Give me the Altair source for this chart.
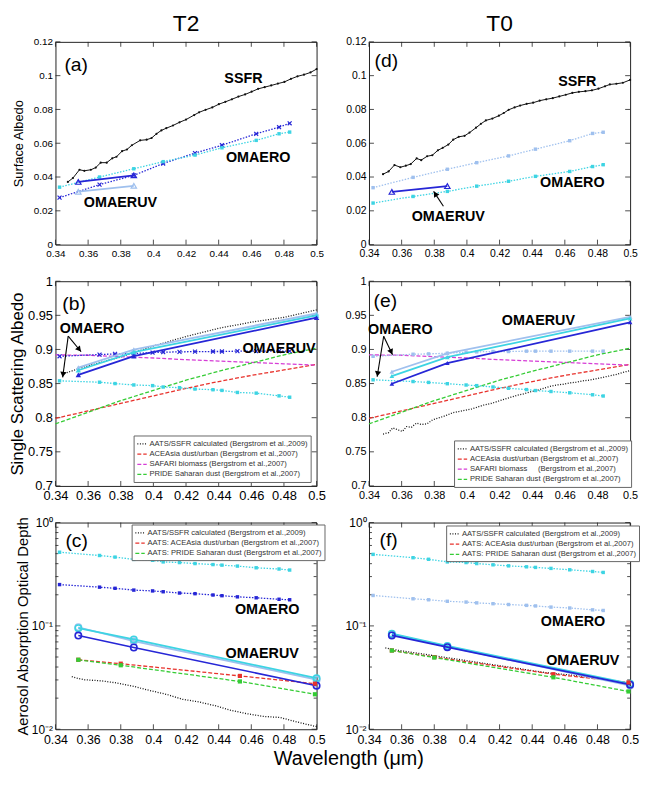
import math
import altair as alt
import pandas as pd

FONT = "Liberation Sans"
DARK = "#2626d6"
CYAN = "#3dd4e3"
LIGHT = "#9fc0ee"
BLACK = "#111111"
RED = "#e8322c"
MAGENTA = "#d63cd6"
GREEN = "#35cc35"
TICKC = "#222222"

W = 264
H_A, H_B, H_C = 205, 207, 209

PANEL_TITLES = ["T2", "T0"]
X_TITLE = "Wavelength (\u03bcm)"

# ---------------- axis ticks ----------------
X_TICKS = [0.34, 0.36, 0.38, 0.40, 0.42, 0.44, 0.46, 0.48, 0.50]
Y_TICKS_SA = [0, 0.02, 0.04, 0.06, 0.08, 0.10, 0.12]
Y_TICKS_SSA = [0.7, 0.75, 0.8, 0.85, 0.9, 0.95, 1.0]
Y_MAJOR_LOG = [0.01, 0.1, 1.0]
Y_MINOR_LOG = [0.02, 0.03, 0.04, 0.05, 0.06, 0.07, 0.08, 0.09,
               0.2, 0.3, 0.4, 0.5, 0.6, 0.7, 0.8, 0.9]

# ---------------- wavelengths ----------------
WL_OMAERO_SA = [0.3425, 0.367, 0.388, 0.406, 0.4255, 0.442, 0.463, 0.477, 0.4835]
WL_OMAERO = [0.3425, 0.367, 0.3765, 0.388, 0.3995, 0.406, 0.416, 0.4255,
             0.4365, 0.442, 0.4515, 0.463, 0.477, 0.4835]
WL_OMAERUV_SA = [0.354, 0.388]
WL_OMAERUV = [0.354, 0.388, 0.5]
WL_AATS = [0.354, 0.380, 0.453, 0.499]
WL_BERG = [0.34, 0.36, 0.38, 0.40, 0.42, 0.44, 0.46, 0.48, 0.50]

# ---------------- (a) T2 surface albedo ----------------
SSFR_A_X = [0.3476, 0.3507, 0.3547, 0.3577, 0.3617, 0.3647, 0.3677, 0.3714, 0.3748, 0.3774,
            0.3808, 0.3838, 0.3868, 0.3919, 0.3959, 0.3989, 0.4019, 0.4049, 0.4079, 0.4120,
            0.4160, 0.4200, 0.4250, 0.4280, 0.4320, 0.4361, 0.4401, 0.4441, 0.4481, 0.4521,
            0.4562, 0.4602, 0.4642, 0.4682, 0.4722, 0.4763, 0.4803, 0.4843, 0.4883, 0.4923,
            0.4963, 0.5000]
SSFR_A_Y = [0.0371, 0.0394, 0.0443, 0.0437, 0.0443, 0.0456, 0.0485, 0.0485, 0.0511, 0.0520,
            0.0553, 0.0563, 0.0588, 0.0617, 0.0621, 0.0631, 0.0656, 0.0676, 0.0689, 0.0705,
            0.0724, 0.0740, 0.0767, 0.0783, 0.0798, 0.0812, 0.0831, 0.0845, 0.0860, 0.0876,
            0.0889, 0.0905, 0.0922, 0.0932, 0.0942, 0.0953, 0.0963, 0.0981, 0.0996, 0.1006,
            0.1019, 0.1039]
OMAERO_A_DARK = [0.0278, 0.0355, 0.0410, 0.0480, 0.0542, 0.0588, 0.0656, 0.0695, 0.0718]
OMAERO_A_CYAN = [0.0340, 0.0400, 0.0449, 0.0491, 0.0530, 0.0573, 0.0617, 0.0656, 0.0666]
OMAERUV_A_DARK = [0.0371, 0.0410]
OMAERUV_A_LIGHT = [0.0313, 0.0348]

# ---------------- (d) T0 surface albedo ----------------
SSFR_D_X = [0.3486, 0.3520, 0.3556, 0.3592, 0.3626, 0.3656, 0.3692, 0.3720, 0.3756, 0.3788,
            0.3822, 0.3852, 0.3886, 0.3916, 0.3950, 0.3986, 0.4016, 0.4056, 0.4086, 0.4116,
            0.4156, 0.4196, 0.4226, 0.4256, 0.4292, 0.4326, 0.4366, 0.4406, 0.4446, 0.4486,
            0.4526, 0.4566, 0.4606, 0.4646, 0.4686, 0.4726, 0.4766, 0.4806, 0.4846, 0.4876,
            0.4916, 0.4956, 0.5000]
SSFR_D_Y = [0.0417, 0.0433, 0.0471, 0.0458, 0.0467, 0.0477, 0.0510, 0.0500, 0.0523, 0.0529,
            0.0558, 0.0573, 0.0592, 0.0621, 0.0638, 0.0644, 0.0663, 0.0692, 0.0715, 0.0735,
            0.0746, 0.0763, 0.0779, 0.0798, 0.0812, 0.0823, 0.0833, 0.0840, 0.0852, 0.0860,
            0.0867, 0.0877, 0.0887, 0.0898, 0.0904, 0.0908, 0.0913, 0.0923, 0.0937, 0.0948,
            0.0952, 0.0958, 0.0975]
OMAERO_D_LIGHT = [0.0337, 0.0398, 0.0446, 0.0485, 0.0525, 0.0565, 0.0615, 0.0658, 0.0665]
OMAERO_D_CYAN = [0.0246, 0.0285, 0.0315, 0.0346, 0.0375, 0.0404, 0.0433, 0.0462, 0.0473]
OMAERUV_D_DARK = [0.0312, 0.0346]

# ---------------- (b) T2 single scattering albedo ----------------
AATS_B_X = [0.3454, 0.36, 0.38, 0.40, 0.42, 0.44, 0.46, 0.48, 0.50]
AATS_B_Y = [0.865, 0.876, 0.889, 0.905, 0.919, 0.931, 0.940, 0.947, 0.958]
OMAERO_B_DARK = [0.890, 0.8925, 0.8935, 0.894, 0.8955, 0.896, 0.8965, 0.8968, 0.897,
                 0.897, 0.8975, 0.8975, 0.8975, 0.8975]
OMAERO_B_CYAN = [0.854, 0.852, 0.850, 0.848, 0.847, 0.845, 0.844, 0.842, 0.841,
                 0.840, 0.837, 0.836, 0.832, 0.830]
OMAERUV_B_DARK = [0.8627, 0.8902, 0.9465]
OMAERUV_B_CYAN = [0.8695, 0.8960, 0.9500]
OMAERUV_B_LIGHT = [0.8733, 0.8998, 0.9528]
SAFARI = [0.892, 0.8915, 0.8895, 0.8875, 0.885, 0.883, 0.881, 0.879, 0.877]
ACEASIA = [0.799, 0.810, 0.821, 0.832, 0.843, 0.853, 0.862, 0.870, 0.878]
PRIDE = [0.791, 0.808, 0.825, 0.840, 0.855, 0.868, 0.880, 0.892, 0.902]

# ---------------- (e) T0 single scattering albedo ----------------
AATS_E_X = [0.3486, 0.352, 0.3545, 0.358, 0.3605, 0.363, 0.366, 0.369, 0.372, 0.3755,
            0.379, 0.383, 0.387, 0.391, 0.395, 0.399, 0.403, 0.407, 0.411, 0.415,
            0.419, 0.423, 0.427, 0.431, 0.435, 0.439, 0.443, 0.447, 0.451, 0.455,
            0.459, 0.463, 0.467, 0.471, 0.475, 0.479, 0.483, 0.487, 0.491, 0.495, 0.500]
AATS_E_Y = [0.776, 0.778, 0.785, 0.782, 0.780, 0.787, 0.786, 0.792, 0.790, 0.791,
            0.797, 0.800, 0.803, 0.807, 0.809, 0.811, 0.813, 0.816, 0.819, 0.821,
            0.824, 0.827, 0.830, 0.833, 0.835, 0.838, 0.840, 0.843, 0.846, 0.848,
            0.849, 0.851, 0.852, 0.854, 0.855, 0.857, 0.859, 0.861, 0.863, 0.866, 0.869]
OMAERO_E_LIGHT = [0.890, 0.893, 0.8935, 0.8945, 0.896, 0.8965, 0.897, 0.897, 0.8975,
                  0.8975, 0.8975, 0.8975, 0.8975, 0.8975]
OMAERO_E_CYAN = [0.8555, 0.853, 0.8517, 0.8498, 0.8479, 0.847, 0.845, 0.8431, 0.8412,
                 0.8398, 0.8384, 0.8365, 0.8336, 0.8318]
OMAERUV_E_DARK = [0.8498, 0.8800, 0.9398]
OMAERUV_E_CYAN = [0.8610, 0.8886, 0.9455]
OMAERUV_E_LIGHT = [0.8673, 0.8943, 0.9479]

# ---------------- (c) T2 absorption optical depth ----------------
AATS_C_X = [0.35, 0.354, 0.358, 0.368, 0.3779, 0.3879, 0.3979, 0.4078, 0.4178, 0.4278,
            0.4378, 0.4477, 0.4577, 0.4677, 0.4777, 0.4816, 0.4876, 0.4956, 0.5]
AATS_C_Y = [0.0323, 0.0310, 0.0301, 0.0294, 0.0280, 0.0260, 0.0237, 0.0218, 0.0195, 0.0184,
            0.0169, 0.0152, 0.0141, 0.0133, 0.0130, 0.0125, 0.0118, 0.0110, 0.0106]
OMAERO_C_CYAN = [0.516, 0.480, 0.463, 0.440, 0.431, 0.416, 0.410, 0.401, 0.392, 0.387,
                 0.379, 0.365, 0.355, 0.347]
OMAERO_C_DARK = [0.251, 0.237, 0.231, 0.222, 0.218, 0.214, 0.208, 0.205, 0.199, 0.196,
                 0.191, 0.187, 0.181, 0.179]
OMAERUV_C_DARK = [0.0806, 0.0618, 0.0264]
OMAERUV_C_CYAN = [0.0951, 0.0739, 0.0312]
OMAERUV_C_LIGHT = [0.0970, 0.0712, 0.0302]
ACE_C = [0.0470, 0.0431, 0.0328, 0.0276]
PRIDE_C = [0.0470, 0.0416, 0.0290, 0.0218]

# ---------------- (f) T0 absorption optical depth ----------------
AATS_F_X = [0.35, 0.358, 0.368, 0.378, 0.388, 0.398, 0.408, 0.418, 0.428, 0.438,
            0.448, 0.458, 0.468, 0.478, 0.488, 0.5]
AATS_F_Y = [0.0612, 0.0580, 0.0550, 0.0520, 0.0492, 0.0466, 0.0440, 0.0417, 0.0395, 0.0373,
            0.0354, 0.0341, 0.0329, 0.0312, 0.0295, 0.0274]
OMAERO_F_CYAN = [0.492, 0.457, 0.441, 0.416, 0.410, 0.401, 0.390, 0.381, 0.373, 0.368,
                 0.360, 0.349, 0.336, 0.329]
OMAERO_F_LIGHT = [0.197, 0.183, 0.179, 0.173, 0.170, 0.167, 0.164, 0.161, 0.158, 0.156,
                  0.152, 0.149, 0.143, 0.141]
OMAERUV_F_DARK = [0.0809, 0.0622, 0.0270]
OMAERUV_F_CYAN = [0.0840, 0.0640, 0.0275]
OMAERUV_F_LIGHT = [0.0830, 0.0630, 0.0265]
ACE_F = [0.0578, 0.0499, 0.0341, 0.0284]
PRIDE_F = [0.0578, 0.0494, 0.0318, 0.0232]

# ---------------- legend texts ----------------
LEG_SSA = ["AATS/SSFR calculated (Bergstrom et al.,2009)",
           "ACEAsia dust/urban (Bergstrom et al.,2007)",
           "SAFARI biomass (Bergstrom et al.,2007)",
           "PRIDE Saharan dust (Bergstrom et al.,2007)"]
LEG_SSA_E = ["AATS/SSFR calculated (Bergstrom et al.,2009)",
             "ACEAsia dust/urban (Bergstrom et al.,2007)",
             "SAFARI biomass\u00a0\u00a0\u00a0\u00a0\u00a0(Bergstrom et al.,2007)",
             "PRIDE Saharan dust (Bergstrom et al.,2007)"]
LEG_AAOD = ["AATS/SSFR calculated (Bergstrom et al.,2009)",
            "AATS: ACEAsia dust/urban (Bergstrom et al.,2007)",
            "AATS: PRIDE Saharan dust (Bergstrom et al.,2007)"]

XPATH = "M -1 -1 L 1 1 M -1 1 L 1 -1"
DOT = [1.5, 1.5]
BDOT = [1, 1.6]
DASH = [4, 2]


def S(x, y, color, dash=None, sw=1.3, shape=None, filled=True, size=14, msw=1.2):
    return dict(x=x, y=y, color=color, dash=dash, sw=sw, shape=shape,
                filled=filled, size=size, msw=msw)


def build(cfg):
    H = cfg["h"]
    lo, hi = cfg["ydom"]
    log = cfg["log"]
    xscale = alt.Scale(domain=[0.34, 0.5], nice=False, zero=False)
    if log:
        yscale = alt.Scale(type="log", domain=[lo, hi], nice=False)
        ylab = ("datum.value >= 0.99 ? '10\u2070' : datum.value >= 0.099 ? "
                "'10\u207b\u00b9' : '10\u207b\u00b2'")
        yvals = Y_MAJOR_LOG
    else:
        yscale = alt.Scale(domain=[lo, hi], nice=False, zero=False)
        ylab = "format(datum.value, '.2~f')"
        yvals = cfg["yticks"]
    xaxis = alt.Axis(values=X_TICKS, labelExpr="format(datum.value, '.2~f')",
                     ticks=False, domain=False, grid=False, title=None,
                     labelFontSize=cfg["lfs"], labelPadding=4,
                     labelOverlap=False, labelFlush=False)
    yargs = dict(values=yvals, labelExpr=ylab, ticks=False, domain=False, grid=False,
                 labelFontSize=cfg["lfs_y"], labelPadding=3, labelOverlap=False,
                 labelFlush=False)
    if cfg.get("ytitle"):
        yargs.update(title=cfg["ytitle"], titleFontSize=cfg["tfs"],
                     titlePadding=cfg["tpad"], titleFontWeight="normal")
    else:
        yargs.update(title=None)
    yaxis = alt.Axis(**yargs)
    X = alt.X("x:Q", scale=xscale, axis=xaxis)
    Y = alt.Y("y:Q", scale=yscale, axis=yaxis)

    layers = []
    # inward tick marks on all four sides
    xt = pd.DataFrame({"x": X_TICKS})
    layers.append(alt.Chart(xt).mark_rule(color=TICKC, strokeWidth=0.8).encode(
        x=X, y=alt.value(H), y2=alt.value(H - 5)))
    layers.append(alt.Chart(xt).mark_rule(color=TICKC, strokeWidth=0.8).encode(
        x=X, y=alt.value(0), y2=alt.value(5)))
    ymaj = pd.DataFrame({"y": yvals})
    layers.append(alt.Chart(ymaj).mark_rule(color=TICKC, strokeWidth=0.8).encode(
        y=Y, x=alt.value(0), x2=alt.value(5)))
    layers.append(alt.Chart(ymaj).mark_rule(color=TICKC, strokeWidth=0.8).encode(
        y=Y, x=alt.value(W - 5), x2=alt.value(W)))
    if log:
        ymin = pd.DataFrame({"y": Y_MINOR_LOG})
        layers.append(alt.Chart(ymin).mark_rule(color=TICKC, strokeWidth=0.8).encode(
            y=Y, x=alt.value(0), x2=alt.value(3)))
        layers.append(alt.Chart(ymin).mark_rule(color=TICKC, strokeWidth=0.8).encode(
            y=Y, x=alt.value(W - 3), x2=alt.value(W)))

    # legend series
    if cfg.get("legend"):
        lg = cfg["legend"]
        rows = []
        for name, xs, ys in lg["series"]:
            for a, b in zip(xs, ys):
                rows.append({"x": a, "y": b, "src": name})
        ldf = pd.DataFrame(rows)
        leg = alt.Legend(orient="none", legendX=lg["lx"], legendY=lg["ly"], title=None,
                         symbolType="stroke", symbolSize=90, symbolStrokeWidth=1.3,
                         labelFontSize=7.7, rowPadding=0.3, padding=3,
                         strokeColor="#666666", fillColor="white", labelLimit=400,
                         labelOffset=2, labelColor="#333333", labelFont=FONT)
        layers.append(alt.Chart(ldf).mark_line(strokeWidth=1.3).encode(
            x=X, y=Y,
            color=alt.Color("src:N", scale=alt.Scale(domain=lg["names"], range=lg["colors"]),
                            legend=leg),
            strokeDash=alt.StrokeDash("src:N", scale=alt.Scale(domain=lg["names"],
                                                               range=lg["dashes"]),
                                      legend=leg)))

    for s in cfg["series"]:
        df = pd.DataFrame({"x": s["x"], "y": s["y"]})
        lk = dict(color=s["color"], strokeWidth=s["sw"])
        if s["dash"]:
            lk["strokeDash"] = s["dash"]
        layers.append(alt.Chart(df).mark_line(**lk).encode(x=X, y=Y))
        if s["shape"]:
            pk = dict(shape=s["shape"], filled=s["filled"], size=s["size"],
                      color=s["color"], opacity=1, strokeWidth=s["msw"])
            layers.append(alt.Chart(df).mark_point(**pk).encode(x=X, y=Y))

    for m in cfg.get("markers", []):
        df = pd.DataFrame({"x": m["x"], "y": m["y"]})
        layers.append(alt.Chart(df).mark_point(shape=m["shape"], filled=m["filled"],
                                               size=m["size"], color=m["color"], opacity=1,
                                               strokeWidth=1.2).encode(x=X, y=Y))

    # arrows
    arrows = cfg.get("arrows", [])
    if arrows:
        rdf = pd.DataFrame(arrows)
        layers.append(alt.Chart(rdf).mark_rule(color="black", strokeWidth=1.1).encode(
            x=X, y=Y, x2="x2:Q", y2="y2:Q"))
        heads = []
        for a in arrows:
            dx = (a["x2"] - a["x"]) / 0.16 * W
            if log:
                span = math.log10(hi) - math.log10(lo)
                dy = -(math.log10(a["y2"]) - math.log10(a["y"])) / span * H
            else:
                dy = -(a["y2"] - a["y"]) / (hi - lo) * H
            ang = math.degrees(math.atan2(dx, -dy)) % 360
            L = math.hypot(dx, dy)
            ux, uy = dx / L, dy / L
            back = 3.0
            hx = a["x2"] - ux * back / W * 0.16
            if log:
                hy = 10 ** (math.log10(a["y2"]) + uy * back / H * span)
            else:
                hy = a["y2"] + uy * back / H * (hi - lo)
            heads.append({"x": hx, "y": hy, "ang": ang})
        hdf = pd.DataFrame(heads)
        layers.append(alt.Chart(hdf).mark_point(shape="triangle-up", filled=True, size=40,
                                                color="black", opacity=1).encode(
            x=X, y=Y, angle=alt.Angle("ang:Q", scale=None)))

    # annotations
    tdf = pd.DataFrame(cfg["texts"])
    layers.append(alt.Chart(tdf).mark_text(fontWeight="bold", fontSize=14.5, font=FONT,
                                           color="black", align="center",
                                           baseline="middle").encode(x=X, y=Y, text="t:N"))
    pdf = pd.DataFrame([cfg["tag"]])
    layers.append(alt.Chart(pdf).mark_text(fontSize=19.5, font=FONT, color="black",
                                           align="center", baseline="middle").encode(
        x=X, y=Y, text="t:N"))

    # column heading (T2 / T0) above the top panels
    if cfg.get("title"):
        hd = pd.DataFrame([{"t": cfg["title"]}])
        layers.append(alt.Chart(hd).mark_text(fontSize=23, font=FONT, color="black",
                                              align="center", baseline="top").encode(
            x=alt.value(W / 2), y=alt.value(-29), text="t:N"))

    return alt.layer(*layers).properties(width=W, height=H)


cfg_a = dict(h=H_A, ydom=[0, 0.12], log=False, yticks=Y_TICKS_SA, lfs=10, lfs_y=10,
             ytitle="Surface Albedo", tfs=13, tpad=8, title=PANEL_TITLES[0],
             series=[
                 S(SSFR_A_X, SSFR_A_Y, BLACK, sw=1.0, shape="circle", size=5),
                 S(WL_OMAERO_SA, OMAERO_A_DARK, DARK, DOT, shape=XPATH, filled=False, size=16),
                 S(WL_OMAERO_SA, OMAERO_A_CYAN, CYAN, DOT, shape="square", size=12),
                 S(WL_OMAERUV_SA, OMAERUV_A_LIGHT, LIGHT, sw=1.8, shape="triangle-up",
                   filled=False, size=30),
                 S(WL_OMAERUV_SA, OMAERUV_A_DARK, DARK, sw=1.8, shape="triangle-up",
                   filled=False, size=30),
             ],
             texts=[{"x": 0.4552, "y": 0.0977, "t": "SSFR"},
                    {"x": 0.4642, "y": 0.0515, "t": "OMAERO"},
                    {"x": 0.3798, "y": 0.0249, "t": "OMAERUV"}],
             tag={"x": 0.3527, "y": 0.1064, "t": "(a)"})

cfg_d = dict(h=H_A, ydom=[0, 0.12], log=False, yticks=Y_TICKS_SA, lfs=10.5, lfs_y=10.5,
             title=PANEL_TITLES[1],
             series=[
                 S(SSFR_D_X, SSFR_D_Y, BLACK, sw=1.0, shape="circle", size=5),
                 S(WL_OMAERO_SA, OMAERO_D_LIGHT, LIGHT, DOT, shape="square", size=12),
                 S(WL_OMAERO_SA, OMAERO_D_CYAN, CYAN, DOT, shape="square", size=12),
                 S(WL_OMAERUV_SA, OMAERUV_D_DARK, DARK, sw=1.8, shape="triangle-up",
                   filled=False, size=30),
             ],
             arrows=[{"x": 0.3856, "y": 0.0227, "x2": 0.3796, "y2": 0.0315}],
             texts=[{"x": 0.4676, "y": 0.0962, "t": "SSFR"},
                    {"x": 0.4646, "y": 0.0365, "t": "OMAERO"},
                    {"x": 0.3886, "y": 0.0163, "t": "OMAERUV"}],
             tag={"x": 0.3506, "y": 0.1087, "t": "(d)"})

cfg_b = dict(h=H_B, ydom=[0.7, 1.0], log=False, yticks=Y_TICKS_SSA, lfs=13, lfs_y=13,
             ytitle="Single Scattering Albedo", tfs=17, tpad=1,
             legend=dict(lx=79, ly=156, names=LEG_SSA,
                         colors=[BLACK, RED, MAGENTA, GREEN],
                         dashes=[BDOT, DASH, DASH, DASH],
                         series=[(LEG_SSA[0], AATS_B_X, AATS_B_Y),
                                 (LEG_SSA[1], WL_BERG, ACEASIA),
                                 (LEG_SSA[2], WL_BERG, SAFARI),
                                 (LEG_SSA[3], WL_BERG, PRIDE)]),
             series=[
                 S(WL_OMAERO, OMAERO_B_DARK, DARK, DOT, shape=XPATH, filled=False, size=16),
                 S(WL_OMAERO, OMAERO_B_CYAN, CYAN, DOT, shape="square", size=12),
                 S(WL_OMAERUV, OMAERUV_B_LIGHT, LIGHT, sw=2.0, shape="triangle-up", size=30),
                 S(WL_OMAERUV, OMAERUV_B_CYAN, CYAN, sw=1.8, shape="triangle-up", size=30),
                 S(WL_OMAERUV, OMAERUV_B_DARK, DARK, sw=1.8, shape="triangle-up", size=30),
             ],
             arrows=[{"x": 0.3478, "y": 0.9196, "x2": 0.3557, "y2": 0.8966},
                     {"x": 0.3478, "y": 0.9196, "x2": 0.3444, "y2": 0.8590}],
             texts=[{"x": 0.3624, "y": 0.9297, "t": "OMAERO"},
                    {"x": 0.4770, "y": 0.9008, "t": "OMAERUV"}],
             tag={"x": 0.3514, "y": 0.967, "t": "(b)"})

cfg_e = dict(h=H_B, ydom=[0.7, 1.0], log=False, yticks=Y_TICKS_SSA, lfs=11, lfs_y=11,
             legend=dict(lx=86, ly=161, names=LEG_SSA_E,
                         colors=[BLACK, RED, MAGENTA, GREEN],
                         dashes=[BDOT, DASH, DASH, DASH],
                         series=[(LEG_SSA_E[0], AATS_E_X, AATS_E_Y),
                                 (LEG_SSA_E[1], WL_BERG, ACEASIA),
                                 (LEG_SSA_E[2], WL_BERG, SAFARI),
                                 (LEG_SSA_E[3], WL_BERG, PRIDE)]),
             series=[
                 S(WL_OMAERO, OMAERO_E_LIGHT, LIGHT, DOT, shape="square", size=12),
                 S(WL_OMAERO, OMAERO_E_CYAN, CYAN, DOT, shape="square", size=12),
                 S(WL_OMAERUV, OMAERUV_E_LIGHT, LIGHT, sw=1.8, shape="triangle-up", size=22),
                 S(WL_OMAERUV, OMAERUV_E_CYAN, CYAN, sw=1.8, shape="triangle-up", size=22),
                 S(WL_OMAERUV, OMAERUV_E_DARK, DARK, sw=1.8, shape="triangle-up", size=22),
             ],
             arrows=[{"x": 0.349, "y": 0.9194, "x2": 0.3544, "y2": 0.8924},
                     {"x": 0.349, "y": 0.9194, "x2": 0.3450, "y2": 0.8600}],
             texts=[{"x": 0.3592, "y": 0.9289, "t": "OMAERO"},
                    {"x": 0.4438, "y": 0.9417, "t": "OMAERUV"}],
             tag={"x": 0.35, "y": 0.9716, "t": "(e)"})

cfg_c = dict(h=H_C, ydom=[0.01, 1.0], log=True, lfs=12.5, lfs_y=12,
             ytitle="Aerosol Absorption Optical Depth", tfs=15, tpad=1,
             legend=dict(lx=77, ly=2, names=LEG_AAOD,
                         colors=[BLACK, RED, GREEN],
                         dashes=[BDOT, DASH, DASH],
                         series=[(LEG_AAOD[0], AATS_C_X, AATS_C_Y),
                                 (LEG_AAOD[1], WL_AATS, ACE_C),
                                 (LEG_AAOD[2], WL_AATS, PRIDE_C)]),
             markers=[dict(x=WL_AATS, y=ACE_C, shape="square", filled=True, size=18, color=RED),
                      dict(x=WL_AATS, y=PRIDE_C, shape="square", filled=True, size=18,
                           color=GREEN)],
             series=[
                 S(WL_OMAERO, OMAERO_C_CYAN, CYAN, DOT, shape="square", size=12),
                 S(WL_OMAERO, OMAERO_C_DARK, DARK, DOT, shape="square", size=12),
                 S(WL_OMAERUV, OMAERUV_C_LIGHT, LIGHT, sw=1.8, shape="circle", filled=False,
                   size=42, msw=1.6),
                 S(WL_OMAERUV, OMAERUV_C_CYAN, CYAN, sw=1.8, shape="circle", filled=False,
                   size=42, msw=1.6),
                 S(WL_OMAERUV, OMAERUV_C_DARK, DARK, sw=1.6, shape="circle", filled=False,
                   size=42, msw=1.6),
             ],
             texts=[{"x": 0.4697, "y": 0.1413, "t": "OMAERO"},
                    {"x": 0.4667, "y": 0.0535, "t": "OMAERUV"}],
             tag={"x": 0.353, "y": 0.664, "t": "(c)"})

cfg_f = dict(h=H_C, ydom=[0.01, 1.0], log=True, lfs=12.5, lfs_y=12,
             legend=dict(lx=78, ly=3, names=LEG_AAOD,
                         colors=[BLACK, RED, GREEN],
                         dashes=[BDOT, DASH, DASH],
                         series=[(LEG_AAOD[0], AATS_F_X, AATS_F_Y),
                                 (LEG_AAOD[1], WL_AATS, ACE_F),
                                 (LEG_AAOD[2], WL_AATS, PRIDE_F)]),
             markers=[dict(x=WL_AATS, y=ACE_F, shape="square", filled=True, size=18, color=RED),
                      dict(x=WL_AATS, y=PRIDE_F, shape="square", filled=True, size=18,
                           color=GREEN)],
             series=[
                 S(WL_OMAERO, OMAERO_F_CYAN, CYAN, DOT, shape="square", size=12),
                 S(WL_OMAERO, OMAERO_F_LIGHT, LIGHT, DOT, shape="square", size=12),
                 S(WL_OMAERUV, OMAERUV_F_LIGHT, LIGHT, sw=2.0, shape="circle", filled=False,
                   size=42, msw=1.6),
                 S(WL_OMAERUV, OMAERUV_F_CYAN, CYAN, sw=2.0, shape="circle", filled=False,
                   size=42, msw=1.6),
                 S(WL_OMAERUV, OMAERUV_F_DARK, DARK, sw=1.8, shape="circle", filled=False,
                   size=42, msw=1.6),
             ],
             texts=[{"x": 0.465, "y": 0.11, "t": "OMAERO"},
                    {"x": 0.471, "y": 0.0457, "t": "OMAERUV"}],
             tag={"x": 0.352, "y": 0.684, "t": "(f)"})

panels = [build(c) for c in [cfg_a, cfg_d, cfg_b, cfg_e, cfg_c, cfg_f]]

chart = alt.concat(
    *panels, columns=2, spacing={"row": 37, "column": 53}, bounds="flush"
).resolve_scale(
    color="independent", strokeDash="independent", x="independent", y="independent"
).properties(
    padding={"left": 0, "top": 0, "right": 0, "bottom": 0},
    title=alt.TitleParams(X_TITLE, orient="bottom", anchor="middle",
                          fontSize=20, fontWeight="normal", font=FONT, offset=3, dx=25,
                          color="black"),
).configure(
    font=FONT
).configure_view(
    stroke="#222222", strokeWidth=1
).configure_axis(
    labelFont=FONT, titleFont=FONT, labelColor="#000000", titleColor="#000000"
).configure_legend(
    labelFont=FONT
)

chart.save("out.html", embed_options={"renderer": "svg", "actions": False})
